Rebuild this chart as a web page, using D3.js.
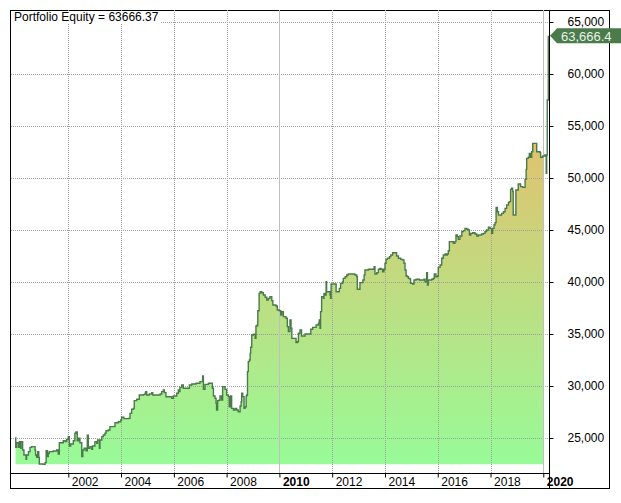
<!DOCTYPE html>
<html lang="en">
<head>
<meta charset="utf-8">
<title>Portfolio Equity</title>
<script src="https://cdn.jsdelivr.net/npm/d3@7"></script>
<style>
    body { margin: 0; background: #fff; }
    svg text { font-family: "Liberation Sans", Arial, sans-serif; font-size: 12px; }
</style>
</head>
<body>
<script type="text/javascript">

    // equity curve (decimal year, dollars)
    var years = [
        2000.00, 2000.01, 2000.04, 2000.11, 2000.15, 2000.20, 2000.21, 2000.27, 2000.32, 2000.40,
        2000.42, 2000.49, 2000.55, 2000.61, 2000.74, 2000.76, 2000.80, 2000.84, 2000.88, 2000.90,
        2001.05, 2001.12, 2001.16, 2001.21, 2001.24, 2001.28, 2001.43, 2001.56, 2001.62, 2001.66,
        2001.81, 2001.88, 2001.94, 2002.00, 2002.04, 2002.09, 2002.19, 2002.25, 2002.29, 2002.34,
        2002.39, 2002.44, 2002.51, 2002.55, 2002.60, 2002.67, 2002.72, 2002.76, 2002.82, 2002.89,
        2002.92, 2003.01, 2003.08, 2003.11, 2003.18, 2003.20, 2003.27, 2003.33, 2003.39, 2003.43,
        2003.52, 2003.58, 2003.77, 2003.90, 2003.99, 2004.02, 2004.11, 2004.28, 2004.34, 2004.40,
        2004.47, 2004.50, 2004.59, 2004.69, 2004.84, 2004.91, 2004.93, 2004.97, 2005.07, 2005.16,
        2005.20, 2005.48, 2005.54, 2005.60, 2005.64, 2005.70, 2005.92, 2005.98, 2006.11, 2006.17,
        2006.21, 2006.23, 2006.30, 2006.36, 2006.59, 2006.68, 2006.84, 2006.99, 2007.09, 2007.12,
        2007.18, 2007.31, 2007.46, 2007.50, 2007.56, 2007.60, 2007.62, 2007.66, 2007.72, 2007.75,
        2007.81, 2007.85, 2007.94, 2008.00, 2008.07, 2008.10, 2008.15, 2008.19, 2008.26, 2008.32,
        2008.38, 2008.44, 2008.51, 2008.55, 2008.57, 2008.61, 2008.66, 2008.70, 2008.74, 2008.76,
        2008.79, 2008.82, 2008.86, 2008.89, 2008.91, 2008.95, 2009.01, 2009.08, 2009.11, 2009.16,
        2009.18, 2009.23, 2009.27, 2009.33, 2009.39, 2009.46, 2009.52, 2009.58, 2009.64, 2009.71,
        2009.75, 2009.87, 2009.92, 2010.00, 2010.05, 2010.09, 2010.15, 2010.25, 2010.30, 2010.34,
        2010.40, 2010.44, 2010.47, 2010.63, 2010.68, 2010.72, 2010.78, 2010.84, 2010.97, 2011.19,
        2011.26, 2011.39, 2011.48, 2011.51, 2011.54, 2011.56, 2011.60, 2011.67, 2011.69, 2011.73,
        2011.77, 2011.79, 2011.92, 2011.94, 2011.96, 2012.15, 2012.27, 2012.32, 2012.40, 2012.42,
        2012.49, 2012.55, 2012.61, 2012.86, 2012.93, 2012.95, 2013.05, 2013.16, 2013.21, 2013.24,
        2013.37, 2013.59, 2013.62, 2013.69, 2013.75, 2013.81, 2013.85, 2013.91, 2013.96, 2014.00,
        2014.04, 2014.09, 2014.17, 2014.22, 2014.29, 2014.44, 2014.51, 2014.60, 2014.67, 2014.72,
        2014.76, 2014.80, 2014.85, 2014.89, 2014.95, 2014.97, 2015.05, 2015.10, 2015.18, 2015.30,
        2015.48, 2015.52, 2015.58, 2015.61, 2015.64, 2015.77, 2015.83, 2015.87, 2015.93, 2015.99,
        2016.02, 2016.09, 2016.15, 2016.21, 2016.28, 2016.31, 2016.36, 2016.40, 2016.44, 2016.59,
        2016.65, 2016.69, 2016.74, 2016.78, 2016.84, 2016.91, 2016.97, 2017.03, 2017.10, 2017.16,
        2017.20, 2017.25, 2017.32, 2017.41, 2017.48, 2017.54, 2017.66, 2017.73, 2017.79, 2017.85,
        2017.92, 2017.98, 2018.04, 2018.08, 2018.13, 2018.17, 2018.21, 2018.26, 2018.30, 2018.42,
        2018.49, 2018.55, 2018.61, 2018.68, 2018.71, 2018.76, 2018.80, 2018.84, 2018.86, 2018.96,
        2019.05, 2019.14, 2019.22, 2019.31, 2019.35, 2019.37, 2019.43, 2019.47, 2019.52, 2019.56,
        2019.60, 2019.75, 2019.88, 2019.90, 2019.98, 2020.06, 2020.10, 2020.11, 2020.13, 2020.15,
        2020.19
    ];

    var equity = [
        25060, 24100, 24550, 24100, 24650, 24010, 24650, 23850, 23370, 22950,
        23370, 23690, 24100, 24170, 23850, 23370, 23140, 23690, 23140, 22500,
        22470, 22630, 23780, 23210, 23530, 23690, 23750, 23850, 23460, 24550,
        24740, 24650, 24870, 25130, 24230, 24420, 24740, 25450, 25580, 24740,
        24970, 24550, 23210, 23850, 24010, 23780, 25260, 24010, 24170, 23910,
        24230, 24650, 24490, 24810, 24010, 24810, 25130, 25290, 25450, 25700,
        25770, 26090, 26470, 26570, 26730, 26990, 26860, 26890, 27370, 27760,
        27850, 28590, 28720, 29130, 29170, 29300, 29460, 29130, 29230, 29360,
        29130, 29230, 29460, 29620, 29360, 28970, 28810, 29040, 29300, 29620,
        29460, 29870, 30100, 29780, 30100, 30190, 30260, 30420, 30960, 29680,
        30160, 30260, 29780, 29040, 28820, 28330, 27690, 28590, 28650, 29040,
        28650, 29940, 29680, 29140, 28980, 28010, 29040, 27850, 27690, 27850,
        27690, 27530, 28080, 28490, 29300, 28980, 27850, 28010, 29040, 29140,
        31380, 32340, 32500, 33140, 33720, 34900, 34970, 34580, 35770, 35870,
        37240, 38910, 39070, 38970, 38750, 38530, 38270, 38430, 38590, 38210,
        37790, 37690, 37310, 37240, 36830, 37150, 36670, 36510, 35710, 35230,
        36350, 35550, 34580, 34170, 34260, 35070, 35390, 34810, 35000, 35450,
        35640, 35870, 36030, 36350, 35550, 37150, 38590, 38430, 38910, 38750,
        40030, 39070, 38750, 38430, 39810, 39070, 39390, 39870, 40030, 40350,
        40510, 40670, 40770, 40670, 40510, 39300, 39940, 40190, 40670, 41150,
        41220, 41470, 40770, 40900, 41220, 41310, 41220, 40990, 41220, 41800,
        42180, 42280, 42440, 42600, 42820, 42500, 42280, 42180, 42120, 41800,
        41150, 40580, 40510, 40350, 40260, 39870, 39810, 40190, 40260, 40190,
        40260, 40030, 40900, 39710, 40190, 40260, 40350, 40770, 40510, 40580,
        41410, 41640, 42280, 42600, 42690, 42600, 42690, 43010, 43880, 43720,
        43880, 44520, 44360, 44100, 44420, 44840, 44940, 45160, 45070, 45000,
        44520, 44680, 44740, 44620, 44420, 44520, 44620, 44680, 44840, 45000,
        45260, 45160, 44680, 45160, 45480, 45710, 47180, 46760, 46440, 46600,
        46760, 47080, 47410, 47630, 47730, 48910, 49010, 48690, 46440, 48850,
        49420, 49170, 49100, 49870, 50830, 51890, 51990, 52370, 51990, 52530,
        53330, 52530, 52440, 51990, 52120, 52210, 52120, 50450, 52200, 57500,
        63666.37
    ];

    var yTicks = [25000, 30000, 35000, 40000, 45000, 50000, 55000, 60000, 65000];
    var xTicks = [2002, 2004, 2006, 2008, 2010, 2012, 2014, 2016, 2018, 2020];
    var boldYears = [2010, 2020];
    var titleText = "Portfolio Equity = 63666.37";
    var lastLabel = "63,666.4";

    var W = 621, H = 503;
    var box = {left: 10, top: 10, right: 609, bottom: 488};
    var plot = {left: 11, top: 10, right: 549, bottom: 473};

    //decimal year -> Date
    function toDate(y) {
        var yr = Math.floor(y);
        var a = new Date(yr, 0, 1), b = new Date(yr + 1, 0, 1);
        return new Date(+a + (y - yr) * (b - a));
    }

    var data = years.map(function (d, i) {
        return {date: toDate(d), value: equity[i]};
    });

    var svg = d3.select("body").append("svg")
        .attr("width", W)
        .attr("height", H);

    var xScale = d3.scaleTime()
        .domain([toDate(1999.83), toDate(2020.216)])
        .range([plot.left, plot.right]);

    var yScale = d3.scaleLinear()
        .domain([21635, 66154])
        .range([plot.bottom, plot.top]);

    var minVal = d3.min(equity), maxVal = d3.max(equity);

    //gradient for the area
    var defs = svg.append("defs");
    var grad = defs.append("linearGradient")
        .attr("id", "eqGrad")
        .attr("gradientUnits", "userSpaceOnUse")
        .attr("x1", 0).attr("x2", 0)
        .attr("y1", yScale(minVal))
        .attr("y2", yScale(maxVal));
    grad.append("stop").attr("offset", "0%").attr("stop-color", "#98fb98");
    grad.append("stop").attr("offset", "100%").attr("stop-color", "#f8b060");

    defs.append("clipPath")
        .attr("id", "fillClip")
        .append("rect")
        .attr("x", plot.left)
        .attr("y", plot.top)
        .attr("width", xScale(toDate(2020)) - plot.left)
        .attr("height", plot.bottom - plot.top);

    //outer frame
    svg.append("rect")
        .attr("x", box.left + 0.5)
        .attr("y", box.top + 0.5)
        .attr("width", box.right - box.left)
        .attr("height", box.bottom - box.top)
        .attr("fill", "#fff")
        .attr("stroke", "#000");

    //area
    var area = d3.area()
        .curve(d3.curveStepAfter)
        .x(function (d) { return xScale(d.date); })
        .y0(yScale(minVal))
        .y1(function (d) { return yScale(d.value); });

    svg.append("path")
        .datum(data)
        .attr("d", area)
        .attr("clip-path", "url(#fillClip)")
        .attr("fill", "url(#eqGrad)");

    //grid lines
    svg.append("g")
        .selectAll("line")
        .data(yTicks)
        .enter()
        .append("line")
        .attr("x1", plot.left)
        .attr("x2", plot.right)
        .attr("y1", function (d) { return Math.round(yScale(d)) + 0.5; })
        .attr("y2", function (d) { return Math.round(yScale(d)) + 0.5; })
        .attr("stroke", "#a0a0a0")
        .attr("stroke-dasharray", "1,1");

    svg.append("g")
        .selectAll("line")
        .data(xTicks)
        .enter()
        .append("line")
        .attr("x1", function (d) { return Math.round(xScale(toDate(d))) + 0.5; })
        .attr("x2", function (d) { return Math.round(xScale(toDate(d))) + 0.5; })
        .attr("y1", plot.top)
        .attr("y2", plot.bottom)
        .attr("stroke", function (d) { return boldYears.indexOf(d) >= 0 ? "#c0c0c0" : "#a0a0a0"; })
        .attr("stroke-dasharray", function (d) { return boldYears.indexOf(d) >= 0 ? null : "1,1"; });

    //equity line
    var line = d3.line()
        .curve(d3.curveStepAfter)
        .x(function (d) { return xScale(d.date); })
        .y(function (d) { return yScale(d.value); });

    svg.append("path")
        .datum(data)
        .attr("d", line)
        .attr("fill", "none")
        .attr("stroke", "#4a7a4a")
        .attr("stroke-width", 1.4);

    //axis lines
    svg.append("line")
        .attr("x1", box.left).attr("x2", plot.right)
        .attr("y1", plot.bottom + 0.5).attr("y2", plot.bottom + 0.5)
        .attr("stroke", "#000");

    svg.append("line")
        .attr("x1", plot.right + 0.5).attr("x2", plot.right + 0.5)
        .attr("y1", box.top).attr("y2", box.bottom)
        .attr("stroke", "#000");

    //y axis on the right
    var yAxis = d3.axisRight(yScale)
        .tickValues(yTicks)
        .tickSize(4)
        .tickPadding(14)
        .tickFormat(d3.format(","));

    var gy = svg.append("g")
        .attr("transform", "translate(" + (plot.right + 0.5) + ",0)")
        .call(yAxis);
    gy.select(".domain").remove();
    gy.selectAll("text")
        .attr("fill", "#000")
        .style("font-size", "12px")
        .style("font-family", "\"Liberation Sans\", Arial, sans-serif");

    //x axis
    var xAxis = d3.axisBottom(xScale)
        .tickValues(xTicks.map(toDate))
        .tickSize(4)
        .tickFormat(d3.timeFormat("%Y"));

    var gx = svg.append("g")
        .attr("transform", "translate(0," + (plot.bottom + 0.5) + ")")
        .call(xAxis);
    gx.select(".domain").remove();
    gx.selectAll("text")
        .attr("text-anchor", "start")
        .attr("x", 3)
        .attr("y", 12)
        .attr("dy", 0)
        .attr("fill", "#000")
        .style("font-size", "12px")
        .style("font-family", "\"Liberation Sans\", Arial, sans-serif")
        .style("font-weight", function (d) {
            return boldYears.indexOf(d.getFullYear()) >= 0 ? "bold" : "normal";
        });

    //title
    svg.append("rect")
        .attr("x", box.left + 1)
        .attr("y", box.top + 1)
        .attr("width", 150)
        .attr("height", 12)
        .attr("fill", "#fff");

    svg.append("text")
        .attr("x", 14)
        .attr("y", 21)
        .attr("fill", "#000")
        .text(titleText);

    //last value tag
    var ty = yScale(equity[equity.length - 1]);
    var tx = plot.right + 1;
    svg.append("path")
        .attr("d", "M" + tx + "," + ty + "L" + (tx + 7) + "," + (ty - 7.5) + "L" + W + "," + (ty - 7.5)
            + "L" + W + "," + (ty + 7.5) + "L" + (tx + 7) + "," + (ty + 7.5) + "Z")
        .attr("fill", "#4b7b4b");

    svg.append("text")
        .attr("x", tx + 11)
        .attr("y", ty + 1)
        .attr("dy", "0.35em")
        .attr("fill", "#e8f2e8")
        .style("font-size", "13px")
        .text(lastLabel);

</script>
</body>
</html>
